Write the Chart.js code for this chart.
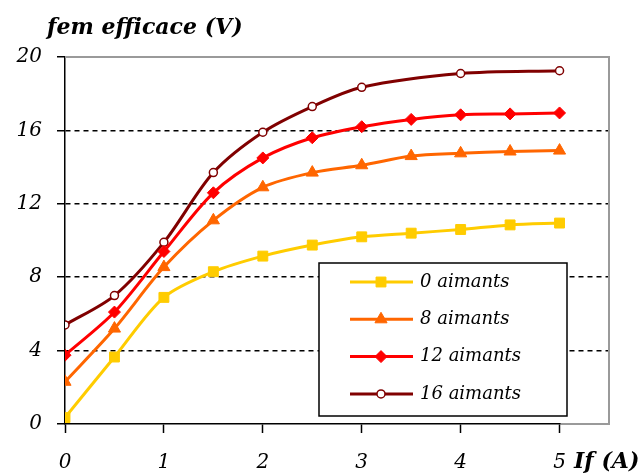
<!DOCTYPE html>
<html>
<head>
<meta charset="utf-8">
<script src="https://cdn.jsdelivr.net/npm/chart.js@4"></script>
<style>
  html, body { margin: 0; padding: 0; background: #fff; }
  #wrap { width: 643px; height: 473px; position: relative; }
</style>
</head>
<body>
<div id="wrap"><canvas id="chart"></canvas></div>
<script>
// Data
const xFull = [0, 0.5, 1, 1.5, 2, 2.5, 3, 3.5, 4, 4.5, 5];
const x16 = [0, 0.5, 1, 1.5, 2, 2.5, 3, 4, 5];
const fem0 = [0.35, 3.65, 6.9, 8.3, 9.15, 9.75, 10.2, 10.4, 10.6, 10.85, 10.95];
const fem8 = [2.3, 5.2, 8.55, 11.1, 12.9, 13.7, 14.1, 14.6, 14.75, 14.85, 14.9];
const fem12 = [3.75, 6.1, 9.4, 12.6, 14.5, 15.6, 16.2, 16.6, 16.85, 16.9, 16.95];
const fem16 = [5.4, 7.0, 9.9, 13.7, 15.9, 17.3, 18.35, 19.1, 19.25];
const seriesLabels = ['0 aimants', '8 aimants', '12 aimants', '16 aimants'];
const yTicks = [0, 4, 8, 12, 16, 20];
const xTicks = [0, 1, 2, 3, 4, 5];

const SERIF = "'DejaVu Serif', serif";

const pts = (xs, ys) => xs.map((x, i) => ({ x, y: ys[i] }));

const styles = [
    { color: '#FFCC00', point: 'rect', radius: 7, fill: '#FFCC00' },
    { color: '#FF6600', point: 'triangle', radius: 7, fill: '#FF6600' },
    { color: '#FF0000', point: 'rectRot', radius: 6, fill: '#FF0000' },
    { color: '#800000', point: 'circle', radius: 4, fill: '#FFFFFF' }
];

const seriesData = [pts(xFull, fem0), pts(xFull, fem8), pts(xFull, fem12), pts(x16, fem16)];

const datasets = seriesData.map((d, i) => ({
    label: seriesLabels[i],
    data: d,
    borderColor: styles[i].color,
    backgroundColor: styles[i].fill,
    borderWidth: 3,
    tension: 0.3,
    pointStyle: styles[i].point,
    pointRadius: styles[i].radius,
    pointBackgroundColor: styles[i].fill,
    pointBorderColor: styles[i].color,
    pointBorderWidth: i === 3 ? 1.5 : 1
}));

// Gray frame (top/right), titles and in-plot legend
const decor = {
    id: 'decor',
    beforeDatasetsDraw(chart) {
        const { ctx, chartArea: a } = chart;
        const x5 = chart.scales.x.getPixelForValue(5);
        ctx.save();
        ctx.strokeStyle = '#9a9a9a';
        ctx.lineWidth = 2;
        ctx.beginPath();
        ctx.moveTo(a.left, a.top);
        ctx.lineTo(a.right, a.top);
        ctx.lineTo(a.right, a.bottom);
        ctx.lineTo(x5 + 1, a.bottom);
        ctx.stroke();
        ctx.restore();
    },
    afterDraw(chart) {
        const { ctx } = chart;
        ctx.save();
        ctx.fillStyle = '#000';
        ctx.textBaseline = 'middle';
        ctx.font = "bold italic 22px " + SERIF;
        ctx.fillText('fem efficace (V)', 47, 28);
        ctx.fillText('If (A)', 574, 462);

        // legend box
        const bx = 319, by = 263, bw = 248, bh = 153;
        ctx.fillStyle = '#fff';
        ctx.fillRect(bx, by, bw, bh);
        ctx.strokeStyle = '#000';
        ctx.lineWidth = 1.5;
        ctx.strokeRect(bx, by, bw, bh);

        ctx.font = "italic 18px " + SERIF;
        seriesLabels.forEach((lab, i) => {
            const y = 282 + i * 37.3;
            const s = styles[i];
            ctx.strokeStyle = s.color;
            ctx.lineWidth = 3;
            ctx.beginPath();
            ctx.moveTo(350, y);
            ctx.lineTo(413, y);
            ctx.stroke();
            ctx.fillStyle = s.fill;
            ctx.strokeStyle = s.color;
            ctx.lineWidth = i === 3 ? 1.5 : 1;
            Chart.helpers.drawPoint(ctx, { pointStyle: s.point, radius: s.radius, rotation: 0, borderWidth: ctx.lineWidth }, 381, y);
            ctx.fillStyle = '#000';
            ctx.fillText(lab, 420, y);
        });
        ctx.restore();
    }
};

new Chart(document.getElementById('chart'), {
    type: 'line',
    data: { datasets },
    options: {
        responsive: true,
        maintainAspectRatio: false,
        animation: false,
        layout: { padding: { top: 57, right: 34, left: 0, bottom: 0 } },
        plugins: {
            legend: { display: false },
            tooltip: { enabled: false }
        },
        scales: {
            x: {
                type: 'linear',
                min: 0,
                max: 5.5,
                afterBuildTicks: axis => {
                    axis.ticks = xTicks.map(v => ({ value: v }));
                },
                afterFit: scale => { scale.height = 49; },
                grid: {
                    drawOnChartArea: false,
                    drawTicks: true,
                    tickLength: 9,
                    tickColor: '#000',
                    tickWidth: 1.5
                },
                border: { color: '#000', width: 1.5 },
                ticks: {
                    color: '#000',
                    padding: 18,
                    maxRotation: 0,
                    font: { family: SERIF, style: 'italic', size: 20 }
                }
            },
            y: {
                min: 0,
                max: 20,
                afterBuildTicks: axis => {
                    axis.ticks = yTicks.map(v => ({ value: v }));
                },
                afterFit: scale => { scale.width = 65; },
                grid: {
                    color: c => (c.tick && (c.tick.value === 0 || c.tick.value === 20)) ? 'rgba(0,0,0,0)' : '#000',
                    lineWidth: 1.5,
                    tickLength: 8,
                    tickColor: '#000',
                    tickWidth: 1.5,
                    tickBorderDash: []
                },
                border: { color: '#000', width: 1.5, dash: [5, 4] },
                ticks: {
                    color: '#000',
                    padding: 15,
                    font: { family: SERIF, style: 'italic', size: 20 }
                }
            }
        }
    },
    plugins: [decor]
});
</script>
</body>
</html>
